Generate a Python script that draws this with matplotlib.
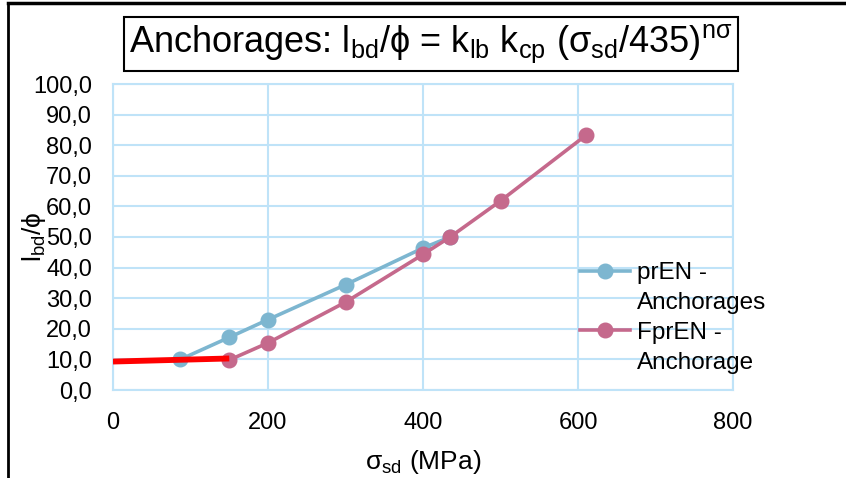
import matplotlib
matplotlib.use("Agg")
import matplotlib.pyplot as plt
from matplotlib.lines import Line2D

plt.rcParams['font.family'] = ['Liberation Sans', 'DejaVu Sans']
plt.rcParams['mathtext.fontset'] = 'custom'
plt.rcParams['mathtext.rm'] = 'Liberation Sans'
plt.rcParams['mathtext.it'] = 'Liberation Sans'
plt.rcParams['mathtext.bf'] = 'Liberation Sans:bold'

# data
pren_x = [87, 150, 200, 300, 400, 435]
pren_y = [10.0, 17.2, 23.0, 34.4, 46.4, 50.0]
fpren_x = [150, 200, 300, 400, 435, 500, 610]
fpren_y = [9.8, 15.4, 28.7, 44.3, 50.0, 61.8, 83.2]
red_x = [0, 150]
red_y = [9.3, 10.3]

x_ticks = [0, 200, 400, 600, 800]
y_ticks = [0, 10, 20, 30, 40, 50, 60, 70, 80, 90, 100]

grid_col = '#BFE3F8'
blue = '#7DB6D0'
pink = '#C5698C'

fig = plt.figure(figsize=(8.46, 4.78), dpi=100)
ax = fig.add_axes([113/846, 1-390/478, (733-113)/846, (390-84)/478])

l1, = ax.plot(pren_x, pren_y, color=blue, lw=2.6, marker='o', ms=10.5, zorder=3)
l2, = ax.plot(fpren_x, fpren_y, color=pink, lw=2.6, marker='o', ms=10.5, zorder=4)
ax.plot(red_x, red_y, color='#FF0000', lw=4.2, solid_capstyle='butt', zorder=5)

ax.set_xlim(0, 800)
ax.set_ylim(0, 100)
ax.set_xticks(x_ticks)
ax.set_yticks(y_ticks)
ax.set_yticklabels([f"{v:.1f}".replace('.', ',') for v in y_ticks])
ax.tick_params(length=0, labelsize=17)
ax.tick_params(axis='y', pad=15)
ax.tick_params(axis='x', pad=16)
ax.grid(True, color=grid_col, lw=1.5)
ax.set_axisbelow(True)
for s in ax.spines.values():
    s.set_color(grid_col)
    s.set_linewidth(1.5)

ax.set_xlabel(r'σ$_{\mathregular{sd}}$ (MPa)', fontsize=19)
ax.xaxis.set_label_coords(0.5, -0.19)
ax.set_ylabel(r'l$_{\mathregular{bd}}$/ϕ', fontsize=19)
ax.yaxis.set_label_coords(-0.105, 0.5)

# legend: marker sits on the first line of each two-line label
blank = Line2D([], [], lw=0)
ax.legend([l1, blank, l2, blank], ['prEN -', 'Anchorages', 'FprEN -', 'Anchorage'],
          loc='upper left', bbox_to_anchor=(568/846, 1-250/478), bbox_transform=fig.transFigure,
          frameon=False, fontsize=17.5, handlelength=2.05, handletextpad=0.3, labelspacing=0.32,
          borderpad=0)

fig.text(431/846, 1-44/478,
         r'Anchorages: l$_{\mathregular{bd}}$/ϕ = k$_{\mathregular{lb}}$ k$_{\mathregular{cp}}$ (σ$_{\mathregular{sd}}$/435)$^{\mathregular{nσ}}$',
         fontsize=26, ha='center', va='center',
         bbox=dict(boxstyle='square,pad=0.15', fc='white', ec='black', lw=1.5))

# outer frame (top and left edges only)
fig.add_artist(Line2D([8/846, 1], [1-3/478, 1-3/478], color='black', lw=2.5, transform=fig.transFigure))
fig.add_artist(Line2D([8/846, 8/846], [0, 1-3/478], color='black', lw=2.0, transform=fig.transFigure))

fig.savefig('out.png', dpi=100)
